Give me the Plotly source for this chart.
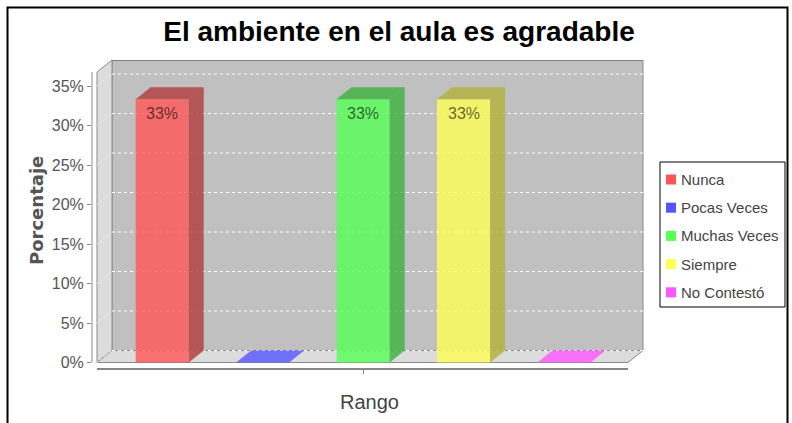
import plotly.graph_objects as go

# ---- data -------------------------------------------------------------
categorias = ["Nunca", "Pocas Veces", "Muchas Veces", "Siempre", "No Contestó"]
porcentajes = [33.33, 0.0, 33.33, 33.33, 0.0]
colores = [(255, 85, 85), (85, 85, 255), (85, 255, 85), (255, 255, 85), (255, 85, 255)]
ticks_y = [0, 5, 10, 15, 20, 25, 30, 35]
ticks_y_texto = [f"{t}%" for t in ticks_y]
titulo = "El ambiente en el aula es agradable"
titulo_x = "Rango"
titulo_y = "Porcentaje"

# ---- page geometry (pixels) -------------------------------------------
W, H = 792, 423
L, R, T, B = 92, 148, 60, 54
PW, PH = W - L - R, H - T - B
BOTTOM_PX = H - B

CENTER0_PX, STEP_PX = 162.2, 100.45      # first bar centre, bar spacing
ZERO_PX, PX_PER_PCT = 362.5, 7.9          # pixel row of 0 %, pixels per 1 %
DX_PX, DY_PX = 15, 12                     # 3-D depth offset
BAR_W = 0.528
ALPHA = 0.8

x_range = [(L - CENTER0_PX) / STEP_PX, (W - R - CENTER0_PX) / STEP_PX]
y_range = [-(BOTTOM_PX - ZERO_PX) / PX_PER_PCT, (ZERO_PX - T) / PX_PER_PCT]
dx = DX_PX / STEP_PX
dy = DY_PX / PX_PER_PCT

x_left = (97 - CENTER0_PX) / STEP_PX       # front-left corner of the floor
x_right = (628 - CENTER0_PX) / STEP_PX     # front-right corner of the floor
y_top = (ZERO_PX - 72) / PX_PER_PCT        # front top of the left wall


def px(xp):
    return (xp - L) / PW


def py(yp):
    return (BOTTOM_PX - yp) / PH


def path(pts):
    return "M " + " L ".join(f"{a:.5f},{b:.5f}" for a, b in pts) + " Z"


def rgba(c, k=1.0, a=ALPHA):
    return f"rgba({int(c[0]*k)},{int(c[1]*k)},{int(c[2]*k)},{a})"


shapes = []
annotations = []
WALL_LINE = dict(color="#8a8a8a", width=1)

# walls: back, left and floor
shapes.append(dict(type="path", xref="x", yref="y", layer="below",
                   path=path([(x_left + dx, dy), (x_right + dx, dy),
                              (x_right + dx, y_top + dy), (x_left + dx, y_top + dy)]),
                   fillcolor="#c0c0c0", line=WALL_LINE))
shapes.append(dict(type="path", xref="x", yref="y", layer="below",
                   path=path([(x_left, 0), (x_left + dx, dy),
                              (x_left + dx, y_top + dy), (x_left, y_top)]),
                   fillcolor="#dcdcdc", line=WALL_LINE))
shapes.append(dict(type="path", xref="x", yref="y", layer="below",
                   path=path([(x_left, 0), (x_right, 0),
                              (x_right + dx, dy), (x_left + dx, dy)]),
                   fillcolor="#dcdcdc", line=WALL_LINE))
# darker top edge of the back wall
shapes.append(dict(type="line", xref="x", yref="y", layer="below",
                   x0=x_left + dx, x1=x_right + dx, y0=y_top + dy, y1=y_top + dy,
                   line=dict(color="#808080", width=2)))

# grid lines on the back wall and the left wall
for t in ticks_y:
    shapes.append(dict(type="line", xref="x", yref="y", layer="below",
                       x0=x_left + dx, x1=x_right + dx, y0=t + dy, y1=t + dy,
                       line=dict(color="white", width=1, dash="3px,3px")))
    shapes.append(dict(type="line", xref="x", yref="y", layer="below",
                       x0=x_left, x1=x_left + dx, y0=t, y1=t + dy,
                       line=dict(color="rgba(255,255,255,0.7)", width=1, dash="2px,2px")))

# axis lines
shapes.append(dict(type="line", xref="paper", yref="y", x0=0, x1=0, y0=0, y1=y_top,
                   line=dict(color="#888888", width=1)))
shapes.append(dict(type="line", xref="x", yref="paper", x0=x_left, x1=x_right, y0=0, y1=0,
                   line=dict(color="#888888", width=2)))

# 3-D top and side faces of each bar
for i, (v, c) in enumerate(zip(porcentajes, colores)):
    x0, x1 = i - BAR_W / 2, i + BAR_W / 2
    if v > 0:
        shapes.append(dict(type="path", xref="x", yref="y", layer="above",
                           path=path([(x0, v), (x1, v), (x1 + dx, v + dy), (x0 + dx, v + dy)]),
                           fillcolor=rgba(c, 0.7), line=dict(width=0)))
        shapes.append(dict(type="path", xref="x", yref="y", layer="above",
                           path=path([(x1, 0), (x1 + dx, dy), (x1 + dx, v + dy), (x1, v)]),
                           fillcolor=rgba(c, 0.7), line=dict(width=0)))
        annotations.append(dict(x=i, y=v, xref="x", yref="y", text=f"{round(v)}%",
                                showarrow=False, yanchor="top", yshift=-4,
                                font=dict(family="Liberation Sans, Arial, sans-serif",
                                          size=16, color="rgba(0,0,0,0.6)")))
    else:
        shapes.append(dict(type="path", xref="x", yref="y", layer="above",
                           path=path([(x0, v), (x1, v), (x1 + dx, v + dy), (x0 + dx, v + dy)]),
                           fillcolor=rgba(c), line=dict(width=0)))

# legend
LEG_X0, LEG_X1, LEG_Y0, LEG_Y1 = 660, 785, 162, 307
shapes.append(dict(type="rect", xref="paper", yref="paper",
                   x0=px(LEG_X0), x1=px(LEG_X1), y0=py(LEG_Y1), y1=py(LEG_Y0),
                   line=dict(color="black", width=1), fillcolor="white"))
for i, (name, c) in enumerate(zip(categorias, colores)):
    yc = 179.5 + 28.2 * i
    shapes.append(dict(type="rect", xref="paper", yref="paper",
                       x0=px(666), x1=px(676), y0=py(yc + 5), y1=py(yc - 5),
                       fillcolor=f"rgb{c}", line=dict(width=0)))
    annotations.append(dict(x=px(679), y=py(yc), xref="paper", yref="paper", text=name,
                            showarrow=False, xanchor="left", yanchor="middle",
                            font=dict(family="Liberation Sans, Arial, sans-serif",
                                      size=15, color="#444444")))

# outer frame
shapes.append(dict(type="rect", xref="paper", yref="paper",
                   x0=px(7.5), x1=px(787.5), y0=py(440), y1=py(7.5),
                   line=dict(color="black", width=2)))

# axis titles
annotations.append(dict(x=px(369), y=py(402), xref="paper", yref="paper", text=titulo_x,
                        showarrow=False, xanchor="center", yanchor="middle",
                        font=dict(family="Liberation Sans, Arial, sans-serif",
                                  size=20, color="#444444")))
annotations.append(dict(x=px(36), y=py(211), xref="paper", yref="paper", text=titulo_y,
                        showarrow=False, textangle=-90, xanchor="center", yanchor="middle",
                        font=dict(family="DejaVu Sans, sans-serif", size=18,
                                  color="#555555", weight="bold")))

fig = go.Figure()
fig.add_trace(go.Bar(x=list(range(len(categorias))), y=porcentajes, width=BAR_W,
                     marker=dict(color=[rgba(c) for c in colores], line=dict(width=0)),
                     hovertext=categorias, showlegend=False))

fig.update_layout(
    width=W, height=H, autosize=False,
    margin=dict(l=L, r=R, t=T, b=B, pad=0),
    paper_bgcolor="white", plot_bgcolor="white",
    showlegend=False,
    title=dict(text=titulo, x=399 / W, xanchor="center", y=1 - 31 / H, yanchor="middle",
               xref="container", yref="container",
               font=dict(family="Liberation Sans, Arial, sans-serif",
                         size=28, color="black", weight="bold")),
    xaxis=dict(range=x_range, showgrid=False, zeroline=False, showline=False,
               tickmode="array", tickvals=[(len(categorias) - 1) / 2], ticktext=[""],
               ticks="outside", ticklen=4, tickcolor="#888888", showticklabels=False),
    yaxis=dict(range=y_range, showgrid=False, zeroline=False, showline=False,
               tickmode="array", tickvals=ticks_y, ticktext=ticks_y_texto,
               ticks="outside", ticklen=4, tickcolor="#888888",
               tickfont=dict(family="Liberation Sans, Arial, sans-serif", size=16,
                             color="#555555")),
    shapes=shapes, annotations=annotations,
)
fig.update_xaxes(fixedrange=True)
fig.update_yaxes(fixedrange=True)

fig.write_html("out.html")
